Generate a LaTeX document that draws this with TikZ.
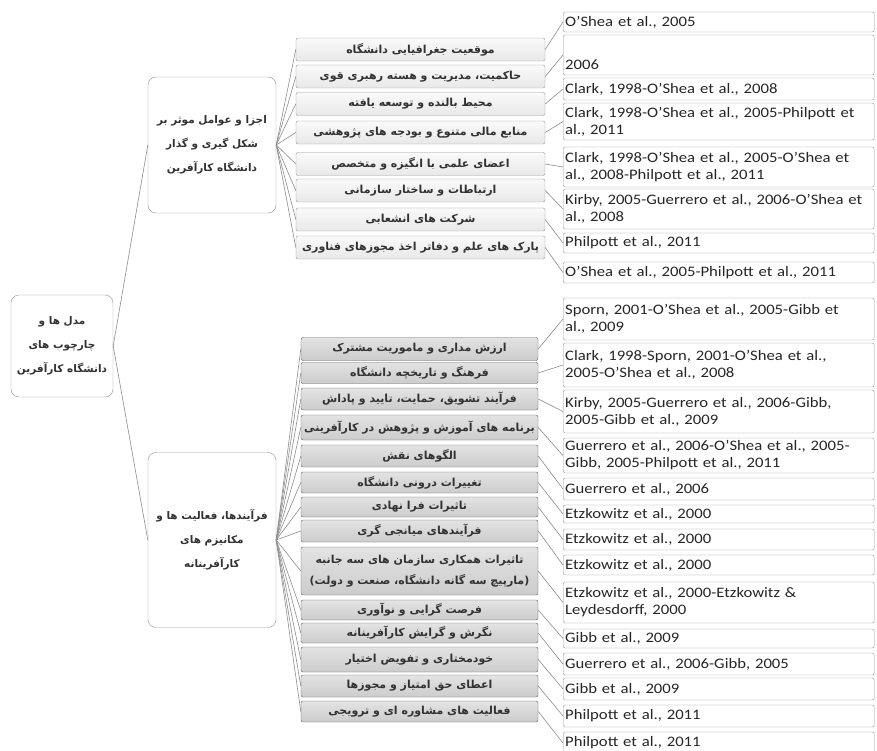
\documentclass[tikz,border=0pt]{standalone}
\usepackage{fontspec}
\setmainfont[FakeStretch=1.15]{Carlito}
\newfontfamily\persianfont[Script=Arabic]{DejaVu Sans}
\TeXXeTstate=1
\usepackage{tikz}
\newcommand{\fatext}[1]{\beginR #1\endR}
\definecolor{boxline}{RGB}{150,150,150}
\definecolor{linkgray}{RGB}{140,140,140}
\definecolor{fatextcol}{RGB}{50,50,50}
\tikzstyle{mainbox} = [
rectangle,
rounded corners=8pt,
draw=boxline,
fill=white,
align=center,
text=fatextcol,
font=\persianfont\bfseries\fontsize{10.5}{24}\selectfont
]
\tikzstyle{topitem} = [
rectangle,
rounded corners=2pt,
draw=boxline,
top color=gray!4,
bottom color=gray!18,
minimum width=249pt,
minimum height=23pt,
inner sep=1pt,
align=center,
text=fatextcol,
font=\persianfont\bfseries\fontsize{11}{21}\selectfont
]
\tikzstyle{botitem} = [
topitem,
draw=gray!75!black,
top color=gray!22,
bottom color=gray!40,
minimum width=237pt
]
\tikzstyle{citebox} = [
rectangle,
rounded corners=2pt,
draw=boxline,
fill=white,
anchor=west,
text width=307pt,
align=left,
inner xsep=2pt,
inner ysep=0pt,
text=black!85,
font=\fontsize{14.5}{17}\selectfont
]
\tikzstyle{link} = [
draw=linkgray,
line width=0.6pt
]

\begin{document}
\begin{tikzpicture}[x=1pt,y=-1pt]
					\useasboundingbox (0,0) rectangle (877,751);
					%Nodes
					\node[mainbox,minimum width=102pt,minimum height=102pt] (root) at (62,346) {\fatext{مدل ها و}\\\fatext{چارچوب های}\\\fatext{دانشگاه کارآفرین}};
					\node[mainbox,minimum width=128pt,minimum height=136pt] (comp) at (212,145) {\fatext{اجزا و عوامل موثر بر}\\\fatext{شکل گیری و گذار}\\\fatext{دانشگاه کارآفرین}};
					\node[mainbox,minimum width=128pt,minimum height=175pt] (proc) at (212,540) {\fatext{فرآیندها، فعالیت ها و}\\\fatext{مکانیزم های}\\\fatext{کارآفرینانه}};
					%Top items
					\node[topitem] (comp1) at (420.5,49.5) {\fatext{موقعیت جغرافیایی دانشگاه}};
					\node[topitem] (comp2) at (420.5,76.5) {\fatext{حاکمیت، مدیریت و هسته رهبری قوی}};
					\node[topitem] (comp3) at (420.5,104) {\fatext{محیط بالنده و توسعه یافته}};
					\node[topitem] (comp4) at (420.5,132.5) {\fatext{منابع مالی متنوع و بودجه های پژوهشی}};
					\node[topitem] (comp5) at (420.5,164) {\fatext{اعضای علمی با انگیزه و متخصص}};
					\node[topitem] (comp6) at (420.5,190.5) {\fatext{ارتباطات و ساختار سازمانی}};
					\node[topitem] (comp7) at (420.5,219.5) {\fatext{شرکت های انشعابی}};
					\node[topitem] (comp8) at (420.5,247.5) {\fatext{پارک های علم و دفاتر اخذ مجوزهای فناوری}};
					%Top citations
					\node[citebox,minimum height=20pt] (cite1) at (563,22) {O'Shea et al., 2005};
					\node[citebox,minimum height=40pt] (cite2) at (563,55) {\strut\\2006};
					\node[citebox,minimum height=22pt] (cite3) at (563,89) {Clark, 1998-O’Shea et al., 2008};
					\node[citebox,minimum height=37pt] (cite4) at (563,121.5) {Clark, 1998-O'Shea et al., 2005-Philpott et\\al., 2011};
					\node[citebox,minimum height=40pt] (cite5) at (563,167) {Clark, 1998-O'Shea et al., 2005-O’Shea et\\al., 2008-Philpott et al., 2011};
					\node[citebox,minimum height=40pt] (cite6) at (563,209) {Kirby, 2005-Guerrero et al., 2006-O’Shea et\\al., 2008};
					\node[citebox,minimum height=20pt] (cite7) at (563,243) {Philpott et al., 2011};
					\node[citebox,minimum height=21pt] (cite8) at (563,272.5) {O'Shea et al., 2005-Philpott et al., 2011};
					%Bottom items
					\node[botitem] (proc1) at (419.5,349) {\fatext{ارزش مداری و ماموریت مشترک}};
					\node[botitem,minimum height=21pt] (proc2) at (419.5,373) {\fatext{فرهنگ و تاریخچه دانشگاه}};
					\node[botitem,minimum height=22pt] (proc3) at (419.5,399) {\fatext{فرآیند تشویق، حمایت، تایید و پاداش}};
					\node[botitem,minimum height=25pt] (proc4) at (419.5,427.5) {\fatext{برنامه های آموزش و پژوهش در کارآفرینی}};
					\node[botitem,minimum height=22pt] (proc5) at (419.5,456) {\fatext{الگوهای نقش}};
					\node[botitem,minimum height=21pt] (proc6) at (419.5,482.5) {\fatext{تغییرات درونی دانشگاه}};
					\node[botitem,minimum height=20pt] (proc7) at (419.5,507) {\fatext{تاثیرات فرا نهادی}};
					\node[botitem,minimum height=22pt] (proc8) at (419.5,531) {\fatext{فرآیندهای میانجی گری}};
					\node[botitem,minimum height=48pt] (proc9) at (419.5,571) {\fatext{تاثیرات همکاری سازمان های سه جانبه}\\\fatext{(مارپیچ سه گانه دانشگاه، صنعت و دولت)}};
					\node[botitem,minimum height=20pt] (proc10) at (419.5,610) {\fatext{فرصت گرایی و نوآوری}};
					\node[botitem,minimum height=20pt] (proc11) at (419.5,633) {\fatext{نگرش و گرایش کارآفرینانه}};
					\node[botitem,minimum height=25pt] (proc12) at (419.5,659.5) {\fatext{خودمختاری و تفویض اختیار}};
					\node[botitem,minimum height=22pt] (proc13) at (419.5,686) {\fatext{اعطای حق امتیاز و مجوزها}};
					\node[botitem,minimum height=21pt] (proc14) at (419.5,711.5) {\fatext{فعالیت های مشاوره ای و ترویجی}};
					%Bottom citations
					\node[citebox,minimum height=42pt] (src1) at (563,319) {Sporn, 2001-O'Shea et al., 2005-Gibb et\\al., 2009};
					\node[citebox,minimum height=44pt] (src2) at (563,365) {Clark, 1998-Sporn, 2001-O'Shea et al.,\\2005-O’Shea et al., 2008};
					\node[citebox,minimum height=43pt] (src3) at (563,411.5) {Kirby, 2005-Guerrero et al., 2006-Gibb,\\2005-Gibb et al., 2009};
					\node[citebox,minimum height=35pt] (src4) at (563,455.5) {Guerrero et al., 2006-O'Shea et al., 2005-\\Gibb, 2005-Philpott et al., 2011};
					\node[citebox,minimum height=22pt] (src5) at (563,489) {Guerrero et al., 2006};
					\node[citebox,minimum height=18pt] (src6) at (563,514) {Etzkowitz et al., 2000};
					\node[citebox,minimum height=21pt] (src7) at (563,539.5) {Etzkowitz et al., 2000};
					\node[citebox,minimum height=20pt] (src8) at (563,565) {Etzkowitz et al., 2000};
					\node[citebox,minimum height=41pt] (src9) at (563,602.5) {Etzkowitz et al., 2000-Etzkowitz \&\\Leydesdorff, 2000};
					\node[citebox,minimum height=19pt] (src10) at (563,638.5) {Gibb et al., 2009};
					\node[citebox,minimum height=22pt] (src11) at (563,664) {Guerrero et al., 2006-Gibb, 2005};
					\node[citebox,minimum height=22pt] (src12) at (563,689) {Gibb et al., 2009};
					\node[citebox,minimum height=22pt] (src13) at (563,716) {Philpott et al., 2011};
					\node[citebox,minimum height=22pt] (src14) at (563,743) {Philpott et al., 2011};
					%Links
					\draw[link] (root.east) -- (comp.west);
					\draw[link] (root.east) -- (proc.west);
					\draw[link] (comp.east) -- (comp1.west);
					\draw[link] (comp.east) -- (comp2.west);
					\draw[link] (comp.east) -- (comp3.west);
					\draw[link] (comp.east) -- (comp4.west);
					\draw[link] (comp.east) -- (comp5.west);
					\draw[link] (comp.east) -- (comp6.west);
					\draw[link] (comp.east) -- (comp7.west);
					\draw[link] (comp.east) -- (comp8.west);
					\draw[link] (comp1.east) -- (cite1.west);
					\draw[link] (comp2.east) -- (cite2.west);
					\draw[link] (comp3.east) -- (cite3.west);
					\draw[link] (comp4.east) -- (cite4.west);
					\draw[link] (comp5.east) -- (cite5.west);
					\draw[link] (comp6.east) -- (cite6.west);
					\draw[link] (comp7.east) -- (cite7.west);
					\draw[link] (comp8.east) -- (cite8.west);
					\draw[link] (proc.east) -- (proc1.west);
					\draw[link] (proc.east) -- (proc2.west);
					\draw[link] (proc.east) -- (proc3.west);
					\draw[link] (proc.east) -- (proc4.west);
					\draw[link] (proc.east) -- (proc5.west);
					\draw[link] (proc.east) -- (proc6.west);
					\draw[link] (proc.east) -- (proc7.west);
					\draw[link] (proc.east) -- (proc8.west);
					\draw[link] (proc.east) -- (proc9.west);
					\draw[link] (proc.east) -- (proc10.west);
					\draw[link] (proc.east) -- (proc11.west);
					\draw[link] (proc.east) -- (proc12.west);
					\draw[link] (proc.east) -- (proc13.west);
					\draw[link] (proc.east) -- (proc14.west);
					\draw[link] (proc1.east) -- (src1.west);
					\draw[link] (proc2.east) -- (src2.west);
					\draw[link] (proc3.east) -- (src3.west);
					\draw[link] (proc4.east) -- (src4.west);
					\draw[link] (proc5.east) -- (src5.west);
					\draw[link] (proc6.east) -- (src6.west);
					\draw[link] (proc7.east) -- (src7.west);
					\draw[link] (proc8.east) -- (src8.west);
					\draw[link] (proc9.east) -- (src9.west);
					\draw[link] (proc10.east) -- (src10.west);
					\draw[link] (proc11.east) -- (src11.west);
					\draw[link] (proc12.east) -- (src12.west);
					\draw[link] (proc13.east) -- (src13.west);
					\draw[link] (proc14.east) -- (src14.west);
				\end{tikzpicture}
\end{document}
